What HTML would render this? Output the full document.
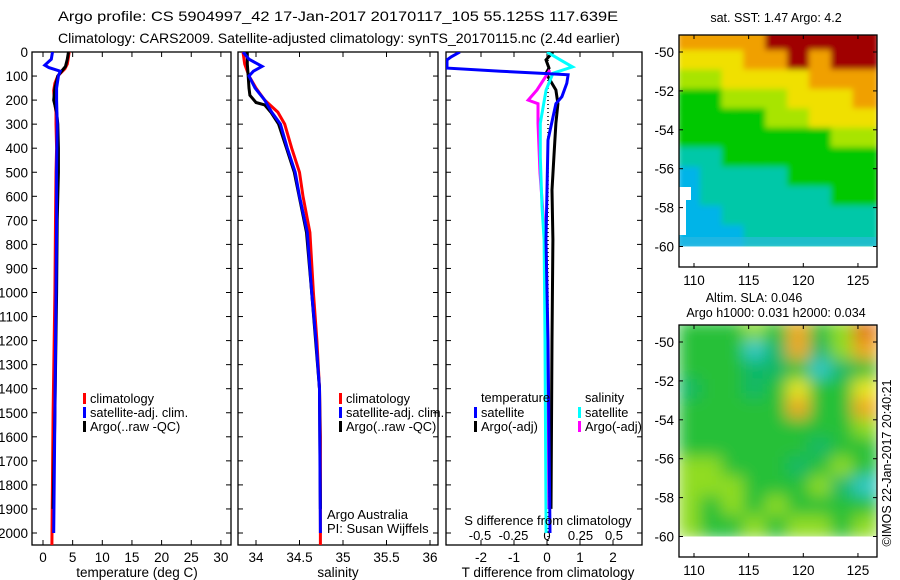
<!DOCTYPE html>
<html><head><meta charset="utf-8">
<style>
html,body{margin:0;padding:0;background:#fff;}
svg{display:block;font-family:"Liberation Sans",sans-serif;}
text{fill:#000;}
</style></head>
<body>
<svg id="fig" width="900" height="580" viewBox="0 0 900 580">
<defs>
<clipPath id="c1"><rect x="32" y="52" width="199" height="493"/></clipPath>
<clipPath id="c2"><rect x="238" y="52" width="200" height="493"/></clipPath>
<clipPath id="c3"><rect x="446" y="52" width="196" height="493"/></clipPath>
<clipPath id="cm1"><rect x="679" y="35" width="198" height="212"/></clipPath>
<clipPath id="cm2"><rect x="679" y="325" width="198" height="212"/></clipPath>
<filter id="b1" x="-5%" y="-5%" width="110%" height="110%"><feGaussianBlur stdDeviation="3"/></filter>
<filter id="b2" x="-5%" y="-5%" width="110%" height="110%"><feGaussianBlur stdDeviation="8"/></filter>
</defs>
<text x="58" y="21" font-size="14" textLength="560" lengthAdjust="spacingAndGlyphs">Argo profile: CS 5904997_42 17-Jan-2017 20170117_105 55.125S 117.639E</text>
<text x="58" y="43" font-size="14" textLength="562" lengthAdjust="spacingAndGlyphs">Climatology: CARS2009. Satellite-adjusted climatology: synTS_20170115.nc (2.4d earlier)</text>
<g id="root"></g>
</svg>
<script>
// ---------- data ----------
const depthTicks=[0,100,200,300,400,500,600,700,800,900,1000,1100,1200,1300,1400,1500,1600,1700,1800,1900,2000];
const tempTicks=[0,5,10,15,20,25,30];
const salTicks=[34,34.5,35,35.5,36];
const salTickLabels=["34","34.5","35","35.5","36"];
const tdTicks=[-2,-1,0,1,2];
const sdTicks=[-0.5,-0.25,0,0.25,0.5];
const sdTickLabels=["-0.5","-0.25","0","0.25","0.5"];

const tClimDepth=[0,20,50,70,100,130,160,200,250,300,400,500,700,1000,1500,2050];
const tClimVal=[4.4,4.3,4.1,3.7,2.5,2.0,1.8,1.9,2.2,2.2,2.3,2.2,2.1,2.0,1.7,1.5];
const tSatDepth=[0,30,55,65,80,100,150,200,300,500,700,1000,1500,2000];
const tSatVal=[1.6,1.4,0.3,1.0,2.9,2.6,2.3,2.3,2.4,2.3,2.3,2.2,2.0,1.8];
const tArgoDepth=[0,30,60,75,100,150,200,250,300,400,500,700,1000,1500,1900];
const tArgoVal=[4.3,4.1,3.8,3.3,2.5,2.0,1.8,2.3,2.5,2.6,2.6,2.4,2.3,2.0,1.7];

const sClimDepth=[0,50,100,150,200,250,300,400,500,600,750,1000,1200,1400,1600,2050];
const sClimVal=[33.85,33.87,33.92,34.0,34.1,34.25,34.33,34.41,34.5,34.54,34.62,34.66,34.7,34.73,34.74,34.74];
const sSatDepth=[0,30,60,80,100,150,200,250,300,400,500,600,750,1000,1200,1400,2000];
const sSatVal=[33.85,33.92,34.07,33.97,33.92,33.99,34.1,34.18,34.28,34.36,34.45,34.5,34.59,34.64,34.69,34.73,34.74];
const sArgoDepth=[0,50,100,150,180,210,220,250,300,400,500,750,1000,1400,1900];
const sArgoVal=[33.9,33.9,33.91,33.92,33.93,34.0,34.1,34.17,34.26,34.35,34.44,34.58,34.64,34.73,34.74];

const tdSatDepth=[0,20,33,67,80,88,95,130,186,215,366,780,1200,2000];
const tdSatVal=[-2.64,-2.9,-3.03,-3.03,-1.4,-0.21,0.64,0.6,0.45,0.27,0.03,-0.03,0.03,0.09];
const tdArgoDepth=[0,33,67,88,158,215,296,436,574,780,1200,1900];
const tdArgoVal=[0.18,-0.03,0.06,-0.03,0.27,0.33,0.27,0.21,0.15,0.18,0.15,0.12];
const sdSatDepth=[0,33,62,88,158,296,436,643,780,1200,2000];
const sdSatVal=[0,0.1,0.19,0.045,-0.007,-0.05,-0.05,-0.037,-0.022,-0.015,-0.007];
const sdArgoDepth=[75,158,200,215,296,503,780,1200,1900];
const sdArgoVal=[0.022,-0.075,-0.14,-0.067,-0.067,-0.052,-0.015,-0.007,0];

const lonTicks=[110,115,120,125];
const latTicks=[-50,-52,-54,-56,-58,-60];
const sstGrid=[
[7,7,7,7,8,8,8,8,8],
[6,6,6,7,7,8,7,8,8],
[5,5,6,6,6,6,7,7,7],
[4,4,5,5,5,6,6,6,7],
[4,4,4,4,5,5,6,6,6],
[4,4,4,4,4,4,4,5,5],
[3,3,4,4,4,4,4,4,4],
[2,3,3,3,3,4,4,4,4],
[2,3,3,3,3,3,3,4,4],
[2,2,3,3,3,3,3,3,3],
[2,2,2,3,3,3,3,3,3]];
const slaGrid=[
[2,2,2,3,2,5,2,3,6],
[2,2,2,0,1,5,1,3,5],
[2,2,2,1,1,2,0,1,2],
[1,2,2,1,2,4,2,2,4],
[2,2,2,2,2,5,2,2,5],
[2,2,2,2,2,2,2,2,3],
[2,2,2,2,2,2,1,2,2],
[3,3,2,2,2,1,2,3,2],
[3,3,3,2,2,2,3,1,0],
[3,2,3,2,3,2,2,2,2],
[3,2,2,3,2,3,3,2,3]];
const sstColors=["#000080","#0040e0","#00b4e8","#00c8a8","#00c800","#a8e400","#f0e000","#f0a000","#a00000"];
const slaColors=["#30c8c8","#10b868","#28c038","#90dc20","#e8e820","#f0a820","#e07818"];

// ---------- helpers ----------
const NS="http://www.w3.org/2000/svg";
const root=document.getElementById('root');
function el(tag,attrs,parent){const e=document.createElementNS(NS,tag);for(const k in attrs)e.setAttribute(k,attrs[k]);(parent||root).appendChild(e);return e;}
const Y0=52,PXD=0.2405;
function yD(d){return Y0+d*PXD;}
function xT(v){return 43+v*5.93;}
function xS(v){return 256+(v-34)*87;}
function xTD(v){return 547+v*33;}
function xSD(v){return 547+v*134;}

function frame(x,y,w,h,name){
  const r=el('rect',{x:x,y:y,width:w,height:h,fill:'none',stroke:'#000','stroke-width':1.3});
  
  
}
function profile(ds,vs,fx,color,clip,name,w){
  const pts=ds.map((d,i)=>fx(vs[i]).toFixed(1)+','+yD(d).toFixed(1)).join(' ');
  const p=el('polyline',{points:pts,fill:'none',stroke:color,'stroke-width':w||3,'clip-path':'url(#'+clip+')'});
  
  
}
function depthAxis(x0,x1,labels){
  depthTicks.forEach(d=>{
    const y=yD(d);
    el('line',{x1:x0,y1:y,x2:x0+5,y2:y,stroke:'#000'});
    el('line',{x1:x1-5,y1:y,x2:x1,y2:y,stroke:'#000'});
    if(labels){const t=el('text',{x:x0-4,y:y+5,'font-size':13.5,'text-anchor':'end'});t.textContent=d;
      
      }
  });
}
function xAxis(ticks,labels,fx,yTop,yBot,labY,name){
  ticks.forEach((v,i)=>{
    const x=fx(v);
    el('line',{x1:x,y1:yBot,x2:x,y2:yBot-5,stroke:'#000'});
    el('line',{x1:x,y1:yTop,x2:x,y2:yTop+5,stroke:'#000'});
    if(labY){const t=el('text',{x:x,y:labY,'font-size':13.5,'text-anchor':'middle'});t.textContent=labels[i];
      
      }
  });
}
function txt(x,y,s,size,name,anchor){
  const t=el('text',{x:x,y:y,'font-size':size,'text-anchor':anchor||'start'});t.textContent=s;
  
  
  return t;
}
function legendEntry(x,y,color,label,name){
  el('rect',{x:x,y:y-10,width:3,height:11,fill:color});
  txt(x+7,y,label,12.8,name);
}

// ---------- panel 1 temperature ----------
frame(32,52,199,493,'temperature-panel');
depthAxis(32,231,true);
xAxis(tempTicks,tempTicks.map(String),xT,52,545,562,'temperature-tick-label');
profile(tClimDepth,tClimVal,xT,'#ff0000','c1','temp-climatology-line');
profile(tArgoDepth,tArgoVal,xT,'#000000','c1','temp-argo-line');
profile(tSatDepth,tSatVal,xT,'#0000ff','c1','temp-satellite-line');
txt(137,577,'temperature (deg C)',13.5,'temperature-axis-title','middle');
legendEntry(83,403,'#ff0000','climatology','legend-climatology');
legendEntry(83,417,'#0000ff','satellite-adj. clim.','legend-satellite');
legendEntry(83,431,'#000000','Argo(..raw -QC)','legend-argo');

// ---------- panel 2 salinity ----------
frame(238,52,200,493,'salinity-panel');
depthAxis(238,438,false);
xAxis(salTicks,salTickLabels,xS,52,545,562,'salinity-tick-label');
profile(sClimDepth,sClimVal,xS,'#ff0000','c2','sal-climatology-line');
profile(sArgoDepth,sArgoVal,xS,'#000000','c2','sal-argo-line');
profile(sSatDepth,sSatVal,xS,'#0000ff','c2','sal-satellite-line');
txt(338,577,'salinity',13.5,'salinity-axis-title','middle');
legendEntry(339,403,'#ff0000','climatology','legend-climatology-2');
legendEntry(339,417,'#0000ff','satellite-adj. clim.','legend-satellite-2');
legendEntry(339,431,'#000000','Argo(..raw -QC)','legend-argo-2');
txt(327,519,'Argo Australia',13,'credit-argo-australia');
txt(327,533,'PI: Susan Wijffels',13,'credit-pi');

// ---------- panel 3 differences ----------
frame(446,52,196,493,'difference-panel');
depthAxis(446,642,false);
xAxis(tdTicks,tdTicks.map(String),xTD,52,545,562,'t-diff-tick-label');
sdTicks.forEach((v,i)=>{txt(xSD(v),540,sdTickLabels[i],13,'s-diff-tick-label','middle');});
el('line',{x1:548,y1:52,x2:548,y2:545,stroke:'#000','stroke-dasharray':'1,3','stroke-width':1.5});
profile(tdArgoDepth,tdArgoVal,xTD,'#000000','c3','t-diff-argo-line');
profile(sdArgoDepth,sdArgoVal,xSD,'#ff00ff','c3','s-diff-argo-line');
profile(sdSatDepth,sdSatVal,xSD,'#00ffff','c3','s-diff-satellite-line');
profile(tdSatDepth,tdSatVal,xTD,'#0000ff','c3','t-diff-satellite-line');
txt(548,525,'S difference from climatology',13,'s-diff-axis-title','middle');
txt(548,577,'T difference from climatology',13.5,'t-diff-axis-title','middle');
txt(481,402,'temperature',12.8,'legend-temperature-header');
txt(585,402,'salinity',12.8,'legend-salinity-header');
legendEntry(474,417,'#0000ff','satellite','legend-t-satellite');
legendEntry(474,431,'#000000','Argo(-adj)','legend-t-argo');
legendEntry(578,417,'#00ffff','satellite','legend-s-satellite');
legendEntry(578,431,'#ff00ff','Argo(-adj)','legend-s-argo');

// ---------- maps ----------
function map(top,grid,colors,clip,blur,name,tick50){
  const x0=679,x1=877;
  const lon=v=>694+(v-110)*10.93;
  const lat=v=>tick50+(-50-v)*19.45;
  const g=el('g',{'clip-path':'url(#'+clip+')'});
  
  
  const gi=el('g',{filter:'url(#'+blur+')'},g);
  grid.forEach((row,r)=>row.forEach((c,k)=>{
    const cell=el('rect',{x:lon(108.7+k*2)-2,y:lat(-49-r)-2,width:2*10.93+4,height:19.45+4,fill:colors[c]},gi);
    
    
  }));
  el('rect',{x:x0,y:lat(-60),width:x1-x0,height:40,fill:'#fff'},g);
  frame(x0,top,x1-x0,232,name+'-frame');
  lonTicks.forEach(v=>{const x=lon(v);
    el('line',{x1:x,y1:top,x2:x,y2:top+4,stroke:'#000'});
    el('line',{x1:x,y1:top+232,x2:x,y2:top+228,stroke:'#000'});
    txt(x,top+250,String(v),13.5,'lon-tick-label','middle');});
  latTicks.forEach(v=>{const y=lat(v);
    el('line',{x1:x0,y1:y,x2:x0+4,y2:y,stroke:'#000'});
    el('line',{x1:x1,y1:y,x2:x1-4,y2:y,stroke:'#000'});
    txt(x0-5,y+5,String(v),13.5,'lat-tick-label','end');});
  return {lon,lat,g};
}
const m1=map(35,sstGrid,sstColors,'cm1','b1','sst-map',52);
el('path',{d:'M679,187 L691,187 L691,200 L686,200 L686,235 L679,235 Z',fill:'#fff'},m1.g);
el('rect',{x:679,y:237,width:198,height:9,fill:'#30b8e0',opacity:0.6},m1.g);
txt(776,22,'sat. SST: 1.47 Argo: 4.2',12.5,'sst-map-title','middle');
const m2=map(325,slaGrid,slaColors,'cm2','b2','sla-map',342);
txt(754,302,'Altim. SLA: 0.046',12.5,'sla-map-title','middle');
txt(776,317,'Argo h1000: 0.031 h2000: 0.034',12.5,'sla-map-subtitle','middle');
const cr=txt(0,0,'\u00a9IMOS 22-Jan-2017 20:40:21',12.5,'imos-timestamp','middle');
cr.setAttribute('transform','translate(891,463) rotate(-90)');
</script>
</body></html>
